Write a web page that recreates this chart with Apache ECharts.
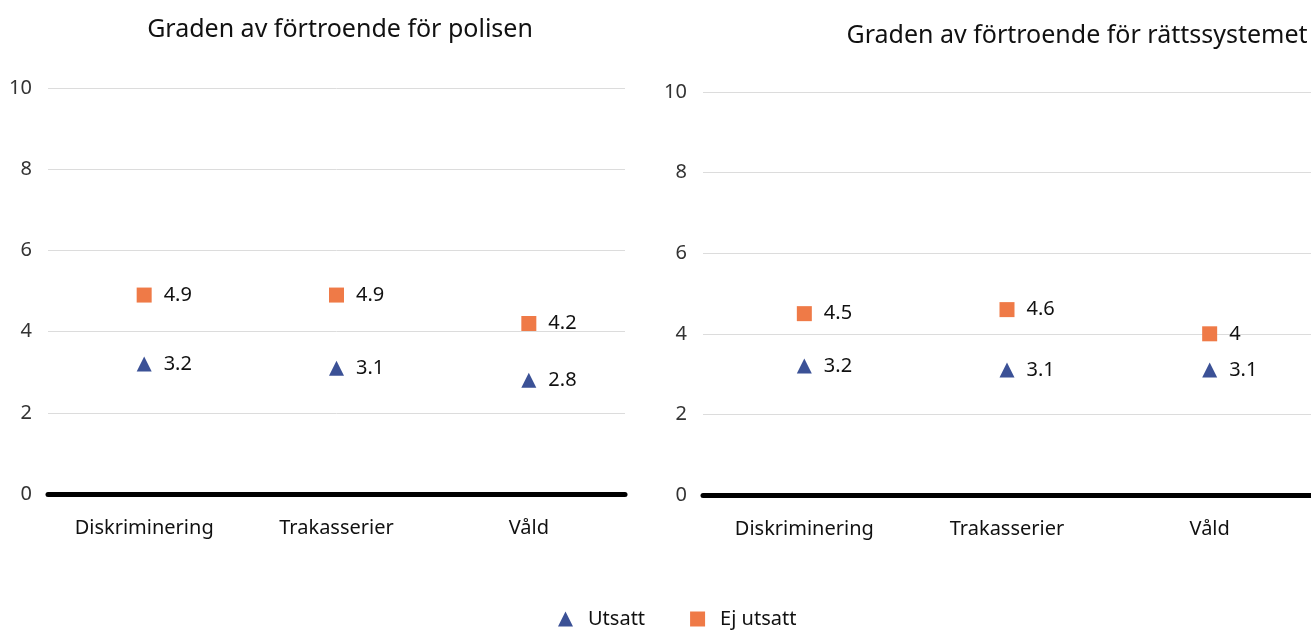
<!DOCTYPE html>
<html>
<head>
	<meta charset="utf-8">
	<title>Graden av förtroende</title>
	<script src="https://cdn.jsdelivr.net/npm/echarts@6/dist/echarts.min.js"></script>
	<style>
        html,body{
            height:100%;
            width: 100%;
            margin: 0;
            padding: 0;
        }
        #chart{
            width: 1311px;
            height: 632px;
        }
    </style>
</head>
<body>
	<div id="chart"></div>
	<script type="text/javascript">
		var chart = echarts.init(document.getElementById('chart'));
		var FONT = '"Noto Sans", sans-serif';

		// data
		var categories = ['Diskriminering', 'Trakasserier', 'Våld'];
		var titles = ['Graden av förtroende för polisen', 'Graden av förtroende för rättssystemet'];
		var polisUtsatt = [3.2, 3.1, 2.8];
		var polisEjUtsatt = [4.9, 4.9, 4.2];
		var rattUtsatt = [3.2, 3.1, 3.1];
		var rattEjUtsatt = [4.5, 4.6, 4];
		var seriesNames = ['Utsatt', 'Ej utsatt'];

		var BLUE = '#3b5196';
		var ORANGE = '#ef7a47';

		function xAxis(idx) {
			return {
				type: 'category', gridIndex: idx, data: categories,
				axisTick: {show: false},
				axisLine: {lineStyle: {color: '#000', width: 5}},
				axisLabel: {color: '#111', fontSize: 20, fontFamily: FONT, margin: 24}
			};
		}
		function yAxis(idx) {
			return {
				type: 'value', gridIndex: idx, min: 0, max: 10, interval: 2,
				axisLine: {show: false}, axisTick: {show: false},
				splitLine: {lineStyle: {color: '#dcdcdc'}},
				axisLabel: {color: '#333', fontSize: 20, fontFamily: FONT, margin: 16}
			};
		}
		function scatter(name, idx, data, symbol, color) {
			return {
				name: name, type: 'scatter', xAxisIndex: idx, yAxisIndex: idx,
				data: data, symbol: symbol, symbolSize: 15,
				itemStyle: {color: color, opacity: 1},
				label: {show: true, position: 'right', distance: 12, color: '#111', fontSize: 20, fontFamily: FONT}
			};
		}

		var option = {
			backgroundColor: '#ffffff',
			animation: false,
			title: [
				{text: titles[0], left: 335, top: 12, textAlign: 'center',
					textStyle: {fontSize: 25, fontWeight: 'normal', color: '#111', fontFamily: FONT}},
				{text: titles[1], left: 1072, top: 18, textAlign: 'center',
					textStyle: {fontSize: 25, fontWeight: 'normal', color: '#111', fontFamily: FONT}}
			],
			legend: {
				left: 553, top: 604, itemGap: 45, itemWidth: 15, itemHeight: 15,
				textStyle: {fontSize: 20, color: '#111', fontFamily: FONT, padding: [0, 0, 0, 10]},
				data: [{name: seriesNames[0], icon: 'triangle'}, {name: seriesNames[1], icon: 'rect'}]
			},
			grid: [
				{left: 48, top: 88, width: 577, height: 406},
				{left: 703, top: 92, width: 615, height: 403}
			],
			xAxis: [xAxis(0), xAxis(1)],
			yAxis: [yAxis(0), yAxis(1)],
			series: [
				scatter(seriesNames[0], 0, polisUtsatt, 'triangle', BLUE),
				scatter(seriesNames[1], 0, polisEjUtsatt, 'rect', ORANGE),
				scatter(seriesNames[0], 1, rattUtsatt, 'triangle', BLUE),
				scatter(seriesNames[1], 1, rattEjUtsatt, 'rect', ORANGE)
			]
		};

		chart.setOption(option);
	</script>
</body>
</html>
